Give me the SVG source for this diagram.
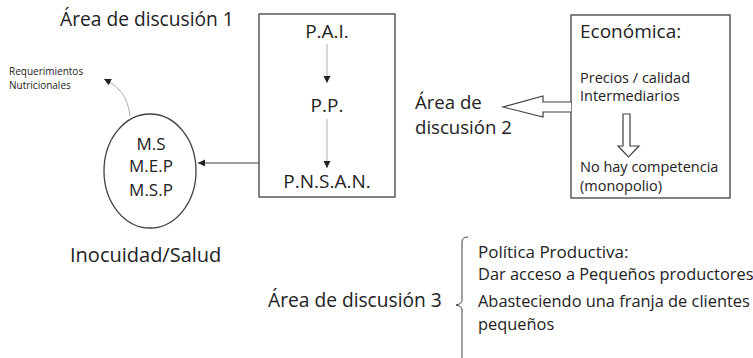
<svg xmlns="http://www.w3.org/2000/svg" width="753" height="358" viewBox="0 0 753 358">
<style>
text{font-family:"Open Sans","Liberation Sans",sans-serif;fill:#222}
.big{font-size:19.2px}
.a2{font-size:18.6px}
.pol{font-size:19px}
.mid{font-size:17px}
.sm{font-size:14.5px}
.lg{font-size:16.4px}
.xs{font-size:10px}
.box{fill:#fff;stroke:#404040;stroke-width:1.3}
.ln{fill:none;stroke:#404040;stroke-width:1}
.gl{fill:none;stroke:#aaa;stroke-width:1}
.hollow{fill:#fff;stroke:#404040;stroke-width:1.2}
</style>
<defs>
<marker id="ah" markerWidth="8" markerHeight="8" refX="7" refY="4" orient="auto" markerUnits="userSpaceOnUse">
<path d="M0,0.5 L7,4 L0,7.5 Z" fill="#222"/>
</marker>
</defs>
<rect width="753" height="358" fill="#fff"/>

<g id="label-area1"><text class="big" x="60" y="26">Área de discusión 1</text></g>

<g id="box-policies">
<rect class="box" x="259" y="14" width="136" height="183"/>
<text class="pol" x="327" y="38" text-anchor="middle">P.A.I.</text>
<text class="pol" x="327" y="112" text-anchor="middle">P.P.</text>
<text class="pol" x="327" y="188" text-anchor="middle">P.N.S.A.N.</text>
</g>

<g id="ellipse-ministries">
<ellipse cx="150" cy="171" rx="46" ry="57" fill="#fff" stroke="#404040" stroke-width="1.3"/>
<text class="mid" x="151" y="150" text-anchor="middle">M.S</text>
<text class="mid" x="151" y="172" text-anchor="middle">M.E.P</text>
<text class="mid" x="151" y="196" text-anchor="middle">M.S.P</text>
</g>

<g id="label-req">
<text class="xs" x="9" y="75">Requerimientos</text>
<text class="xs" x="9" y="89">Nutricionales</text>
</g>

<g id="label-inocuidad"><text class="big" x="70" y="262" style="font-size:20px">Inocuidad/Salud</text></g>

<g id="box-economica">
<rect class="box" x="571" y="15" width="159" height="183"/>
<text class="big" x="580" y="38" style="font-size:19px">Económica:</text>
<text class="sm" x="580" y="83">Precios / calidad</text>
<text class="sm" x="580" y="101">Intermediarios</text>
<text class="sm" x="580" y="172">No hay competencia</text>
<text class="sm" x="580" y="191">(monopolio)</text>
</g>

<g id="label-area2">
<text class="a2" x="415" y="109">Área de</text>
<text class="a2" x="415" y="134">discusión 2</text>
</g>

<g id="label-area3">
<text class="big" x="268" y="307">Área de discusión 3</text>
</g>

<g id="text-productiva">
<text class="lg" x="478" y="258" style="font-size:17px">Política Productiva:</text>
<text class="lg" x="478" y="280">Dar acceso a Pequeños  productores</text>
<text class="lg" x="478" y="307">Abasteciendo una franja de clientes</text>
<text class="lg" x="478" y="330">pequeños</text>
</g>

<g id="connectors">
<line class="gl" x1="327" y1="44" x2="327" y2="83" marker-end="url(#ah)"/>
<line class="gl" x1="327" y1="119" x2="327" y2="168" marker-end="url(#ah)"/>
<line class="ln" x1="259" y1="163" x2="198" y2="163" marker-end="url(#ah)"/>
<path class="gl" d="M130,116 C128,96 118,86 104,79" marker-end="url(#ah)"/>
<path class="hollow" d="M571,102 L543,102 L543,96 L503,107 L543,117 L543,112 L571,112"/>
<path class="hollow" d="M623,114 L630,114 L630,146 L639,146 L628.5,157 L618,146 L623,146 Z"/>
<path class="ln" stroke="#888" d="M468,237 Q462,237 462,242 L462,300 Q462,304 456,305 Q462,306 462,310 L462,358"/>
</g>
</svg>
